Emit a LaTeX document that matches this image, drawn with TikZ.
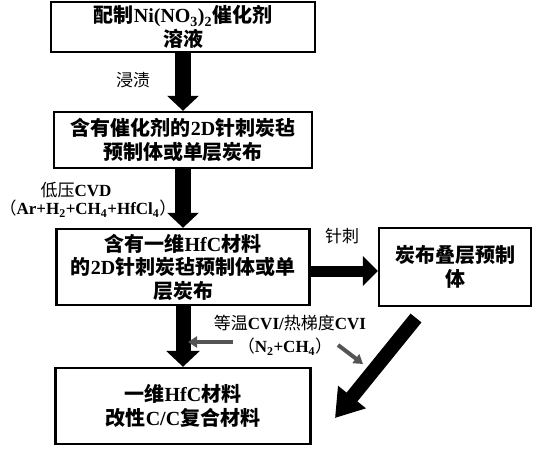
\documentclass[tikz,border=0pt]{standalone}
\usepackage{fontspec}
\setmainfont{Liberation Serif}
\newfontfamily\cjk{Noto Sans CJK SC}
\usetikzlibrary{arrows.meta}
\definecolor{ArrowClr}{rgb}{0.33,0.33,0.33}
\newcommand{\zh}[1]{{\cjk #1}}
\newcommand{\zl}[1]{{\cjk\mdseries #1}}

\begin{document}
\begin{tikzpicture}[x=1pt,y=-1pt,
  box/.style={draw,line width=2.4pt,align=center,inner sep=0pt,
    font=\fontsize{20}{23.5}\selectfont\bfseries},
  lbl/.style={inner sep=0pt,font=\fontsize{17}{20}\selectfont\bfseries},
  bigarrow/.style={line width=#1}]
\useasboundingbox (0,0) rectangle (536,450);

\node[box,minimum width=264pt,minimum height=50pt] (Sol) at (183,27)
  {\zh{配制}Ni(NO\textsubscript{3})\textsubscript{2}\zh{催化剂}\\\zh{溶液}};
\node[box,minimum width=258pt,minimum height=56pt] (Pre) at (183,140)
  {\zh{含有催化剂的}2D\zh{针刺炭毡}\\\zh{预制体或单层炭布}};
\node[box,minimum width=253pt,minimum height=76pt] (Hfc) at (183,267)
  {\zh{含有一维}HfC\zh{材料}\\\zh{的}2D\zh{针刺炭毡预制体或单}\\\zh{层炭布}};
\node[box,minimum width=152pt,minimum height=78pt] (Lam) at (455,267)
  {\zh{炭布叠层预制}\\\zh{体}};
\node[box,minimum width=255pt,minimum height=76pt] (Com) at (183,406)
  {\zh{一维}HfC\zh{材料}\\\zh{改性}C/C\zh{复合材料}};

% labels
\node[lbl] (Imp) at (133,80) {\zl{浸渍}};
\node[lbl] (Cvd) at (76,190) {\zl{低压}CVD};
\node[lbl] (Mix) at (88,209) {\zl{（}Ar+H\textsubscript{2}+CH\textsubscript{4}+HfCl\textsubscript{4}\zl{）}};
\node[lbl] (Ndl) at (342,236) {\zl{针刺}};
\node[lbl] (Cvi) at (290,323) {\zl{等温}CVI/\zl{热梯度}CVI};
\node[lbl] (Gas) at (285,347) {\zl{（}N\textsubscript{2}+CH\textsubscript{4}\zl{）}};

% process arrows
\draw[bigarrow=16pt,-{Triangle[length=15pt,width=31pt]}] (Sol) -- (Pre);
\draw[bigarrow=16pt,-{Triangle[length=15pt,width=31pt]}] (Pre) -- (Hfc);
\draw[bigarrow=15pt,-{Triangle[length=16pt,width=33pt]}] (Hfc) -- (Com);
\draw[bigarrow=11pt,-{Triangle[length=15pt,width=29pt]}]
  ([yshift=-4pt]Hfc.east) -- ([yshift=-4pt]Lam.west);

\coordinate (D1) at (416,318);
\coordinate (D2) at (335,418);
\draw[bigarrow=14pt,-{Triangle[length=27pt,width=34pt]}] (D1) -- (D2);

\coordinate (G1) at (233,342);
\coordinate (G2) at (188,342);
\coordinate (G3) at (338,345);
\coordinate (G4) at (363,364);
\draw[ArrowClr,line width=4pt,-{Triangle[length=9pt,width=11pt]}] (G1) -- (G2);
\draw[ArrowClr,line width=4pt,-{Triangle[length=9pt,width=11pt]}] (G3) -- (G4);

\end{tikzpicture}
\end{document}
